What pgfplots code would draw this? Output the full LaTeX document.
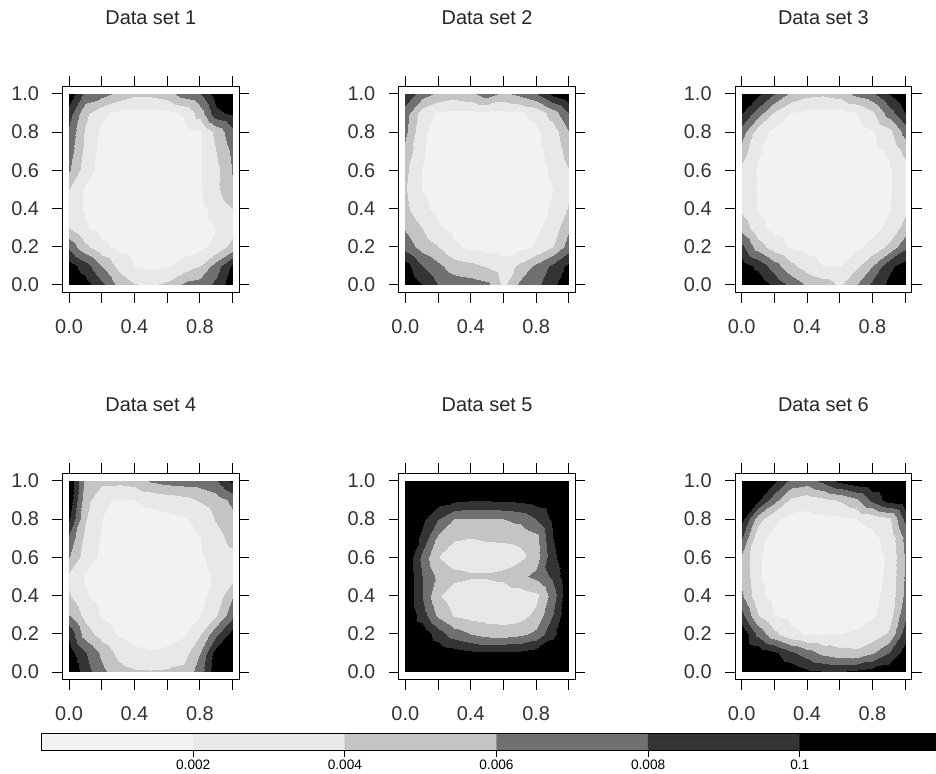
\documentclass[border=0pt]{standalone}
\usepackage{fontspec}
\setmainfont{Liberation Sans}
\usepackage{pgfplots}
\pgfplotsset{compat=1.18}
\pgfplotsset{
  colormap={levels}{rgb255=(242,242,242) rgb255=(232,232,232) rgb255=(196,196,196) rgb255=(112,112,112) rgb255=(52,52,52) rgb255=(0,0,0)},
  panel/.style={
    scale only axis, width=176.6bp, height=206.3bp,
    xmin=-0.04, xmax=1.04, ymin=-0.04, ymax=1.04,
    axis on top,
    colormap name=levels, colormap access=piecewise constant,
    point meta min=0, point meta max=12,
    xtick={0,0.2,0.4,0.6,0.8,1}, ytick={0,0.2,0.4,0.6,0.8,1},
    xticklabels={0.0,,0.4,,0.8,}, yticklabels={0.0,0.2,0.4,0.6,0.8,1.0},
    tick align=outside, tick pos=both, major tick length=10bp,
    tick style={black, line width=0.9bp},
    axis line style={black, line width=1.1bp},
    tick label style={font=\fontsize{20}{24}\selectfont, text=black!80},
    xticklabel style={yshift=-13bp},
    yticklabel style={xshift=-10bp},
    title style={at={(0.5,1)}, anchor=base, yshift=56bp, font=\fontsize{20}{24}\selectfont, text=black!85},
    anchor=south west,
  },
  field/.style={surf, shader=interp, mesh/rows=11, mesh/cols=11, point meta=explicit},
}
\begin{document}
\begin{tikzpicture}[x=1bp,y=1bp]
\path[use as bounding box] (0,0) rectangle (936,774);
\clip (0,0) rectangle (936,774);

% ---------------- Data set 1 ----------------
\begin{axis}[panel, at={(62.5bp,481.4bp)}, title={Data set 1}]
\addplot[field] coordinates {
(0,1)[11.5] (0.1,1)[7.5] (0.2,1)[6.8] (0.3,1)[5.5] (0.4,1)[4.5] (0.5,1)[4.5] (0.6,1)[5] (0.7,1)[7] (0.8,1)[7.8] (0.9,1)[11] (1,1)[12]
(0,0.9)[9] (0.1,0.9)[4.5] (0.2,0.9)[2.5] (0.3,0.9)[1.5] (0.4,0.9)[1.2] (0.5,0.9)[1.2] (0.6,0.9)[1.5] (0.7,0.9)[2.2] (0.8,0.9)[5] (0.9,0.9)[9.5] (1,0.9)[10.5]
(0,0.8)[7.5] (0.1,0.8)[3.8] (0.2,0.8)[1.5] (0.3,0.8)[1] (0.4,0.8)[1] (0.5,0.8)[1] (0.6,0.8)[1] (0.7,0.8)[1.3] (0.8,0.8)[1.8] (0.9,0.8)[4.5] (1,0.8)[7.5]
(0,0.7)[7] (0.1,0.7)[3.5] (0.2,0.7)[1.2] (0.3,0.7)[1] (0.4,0.7)[1] (0.5,0.7)[1] (0.6,0.7)[1] (0.7,0.7)[1.2] (0.8,0.7)[1.8] (0.9,0.7)[4] (1,0.7)[6.5]
(0,0.6)[6.2] (0.1,0.6)[3] (0.2,0.6)[1.2] (0.3,0.6)[1] (0.4,0.6)[1] (0.5,0.6)[1] (0.6,0.6)[1] (0.7,0.6)[1.2] (0.8,0.6)[1.8] (0.9,0.6)[3.5] (1,0.6)[6.2]
(0,0.5)[4] (0.1,0.5)[1.8] (0.2,0.5)[1.2] (0.3,0.5)[1] (0.4,0.5)[1] (0.5,0.5)[1] (0.6,0.5)[1] (0.7,0.5)[1.2] (0.8,0.5)[1.8] (0.9,0.5)[3.5] (1,0.5)[6]
(0,0.4)[3] (0.1,0.4)[1.8] (0.2,0.4)[1.2] (0.3,0.4)[1] (0.4,0.4)[1] (0.5,0.4)[1] (0.6,0.4)[1] (0.7,0.4)[1.2] (0.8,0.4)[1.6] (0.9,0.4)[2.5] (1,0.4)[4]
(0,0.3)[4] (0.1,0.3)[2.2] (0.2,0.3)[1.3] (0.3,0.3)[1] (0.4,0.3)[1] (0.5,0.3)[1] (0.6,0.3)[1] (0.7,0.3)[1.2] (0.8,0.3)[1.5] (0.9,0.3)[2] (1,0.3)[3]
(0,0.2)[7.5] (0.1,0.2)[4.5] (0.2,0.2)[2.5] (0.3,0.2)[1.5] (0.4,0.2)[1.2] (0.5,0.2)[1] (0.6,0.2)[1] (0.7,0.2)[1.2] (0.8,0.2)[1.6] (0.9,0.2)[2.5] (1,0.2)[5]
(0,0.1)[11] (0.1,0.1)[9] (0.2,0.1)[6] (0.3,0.1)[3.5] (0.4,0.1)[2] (0.5,0.1)[1.5] (0.6,0.1)[1.8] (0.7,0.1)[2.8] (0.8,0.1)[4] (0.9,0.1)[7] (1,0.1)[10.5]
(0,0)[12] (0.1,0)[11] (0.2,0)[8.5] (0.3,0)[5.5] (0.4,0)[4.2] (0.5,0)[3.8] (0.6,0)[4.5] (0.7,0)[6.5] (0.8,0)[7] (0.9,0)[8.5] (1,0)[11.5]
};
\end{axis}

% ---------------- Data set 2 ----------------
\begin{axis}[panel, at={(398.8bp,481.4bp)}, title={Data set 2}]
\addplot[field] coordinates {
(0,1)[9.5] (0.1,1)[7] (0.2,1)[5.5] (0.3,1)[5] (0.4,1)[5.5] (0.5,1)[7] (0.6,1)[5.5] (0.7,1)[6.5] (0.8,1)[7.8] (0.9,1)[10.5] (1,1)[12]
(0,0.9)[7] (0.1,0.9)[3] (0.2,0.9)[1.8] (0.3,0.9)[1.5] (0.4,0.9)[1.5] (0.5,0.9)[1.5] (0.6,0.9)[1.5] (0.7,0.9)[1.8] (0.8,0.9)[2.5] (0.9,0.9)[5] (1,0.9)[8]
(0,0.8)[6.5] (0.1,0.8)[2.3] (0.2,0.8)[1.3] (0.3,0.8)[1] (0.4,0.8)[1] (0.5,0.8)[1] (0.6,0.8)[1] (0.7,0.8)[1.2] (0.8,0.8)[1.6] (0.9,0.8)[3] (1,0.8)[6]
(0,0.7)[5.5] (0.1,0.7)[2.2] (0.2,0.7)[1.2] (0.3,0.7)[1] (0.4,0.7)[1] (0.5,0.7)[1] (0.6,0.7)[1] (0.7,0.7)[1.2] (0.8,0.7)[1.6] (0.9,0.7)[2.5] (1,0.7)[5]
(0,0.6)[4.5] (0.1,0.6)[2] (0.2,0.6)[1.2] (0.3,0.6)[1] (0.4,0.6)[1] (0.5,0.6)[1] (0.6,0.6)[1] (0.7,0.6)[1.1] (0.8,0.6)[1.5] (0.9,0.6)[2.2] (1,0.6)[4]
(0,0.5)[4.2] (0.1,0.5)[2] (0.2,0.5)[1.2] (0.3,0.5)[1] (0.4,0.5)[1] (0.5,0.5)[1] (0.6,0.5)[1] (0.7,0.5)[1.1] (0.8,0.5)[1.5] (0.9,0.5)[2] (1,0.5)[3.5]
(0,0.4)[4.5] (0.1,0.4)[2.5] (0.2,0.4)[1.5] (0.3,0.4)[1.1] (0.4,0.4)[1] (0.5,0.4)[1] (0.6,0.4)[1] (0.7,0.4)[1.1] (0.8,0.4)[1.5] (0.9,0.4)[2.2] (1,0.4)[4.3]
(0,0.3)[5.8] (0.1,0.3)[4] (0.2,0.3)[2.2] (0.3,0.3)[1.5] (0.4,0.3)[1.2] (0.5,0.3)[1] (0.6,0.3)[1] (0.7,0.3)[1.2] (0.8,0.3)[1.7] (0.9,0.3)[2.8] (1,0.3)[5.8]
(0,0.2)[7.2] (0.1,0.2)[5.2] (0.2,0.2)[4.1] (0.3,0.2)[2.3] (0.4,0.2)[1.6] (0.5,0.2)[1.3] (0.6,0.2)[1.2] (0.7,0.2)[1.5] (0.8,0.2)[2.2] (0.9,0.2)[4] (1,0.2)[7]
(0,0.1)[11] (0.1,0.1)[8] (0.2,0.1)[6.5] (0.3,0.1)[5] (0.4,0.1)[4.5] (0.5,0.1)[3.8] (0.6,0.1)[2.8] (0.7,0.1)[4.5] (0.8,0.1)[6.5] (0.9,0.1)[8.5] (1,0.1)[10.5]
(0,0)[12] (0.1,0)[10] (0.2,0)[8] (0.3,0)[7.2] (0.4,0)[7] (0.5,0)[6.5] (0.6,0)[3.5] (0.7,0)[6.5] (0.8,0)[7.5] (0.9,0)[9.5] (1,0)[12]
};
\end{axis}

% ---------------- Data set 3 ----------------
\begin{axis}[panel, at={(735.1bp,481.4bp)}, title={Data set 3}]
\addplot[field] coordinates {
(0,1)[12] (0.1,1)[10.5] (0.2,1)[8] (0.3,1)[5.5] (0.4,1)[4.5] (0.5,1)[4.3] (0.6,1)[4.8] (0.7,1)[6.5] (0.8,1)[7.5] (0.9,1)[10] (1,1)[12]
(0,0.9)[10] (0.1,0.9)[7] (0.2,0.9)[3.8] (0.3,0.9)[2] (0.4,0.9)[1.5] (0.5,0.9)[1.3] (0.6,0.9)[1.3] (0.7,0.9)[1.8] (0.8,0.9)[3.5] (0.9,0.9)[7] (1,0.9)[10]
(0,0.8)[7] (0.1,0.8)[2.8] (0.2,0.8)[1.5] (0.3,0.8)[1.2] (0.4,0.8)[1] (0.5,0.8)[1] (0.6,0.8)[1] (0.7,0.8)[1.2] (0.8,0.8)[1.8] (0.9,0.8)[3.2] (1,0.8)[6.8]
(0,0.7)[5] (0.1,0.7)[2.2] (0.2,0.7)[1.3] (0.3,0.7)[1] (0.4,0.7)[1] (0.5,0.7)[1] (0.6,0.7)[1] (0.7,0.7)[1] (0.8,0.7)[1.5] (0.9,0.7)[2.2] (1,0.7)[4.5]
(0,0.6)[3.5] (0.1,0.6)[1.8] (0.2,0.6)[1.2] (0.3,0.6)[1] (0.4,0.6)[1] (0.5,0.6)[1] (0.6,0.6)[1] (0.7,0.6)[1] (0.8,0.6)[1.4] (0.9,0.6)[1.8] (1,0.6)[3.2]
(0,0.5)[3.5] (0.1,0.5)[1.8] (0.2,0.5)[1.2] (0.3,0.5)[1] (0.4,0.5)[1] (0.5,0.5)[1] (0.6,0.5)[1] (0.7,0.5)[1] (0.8,0.5)[1.4] (0.9,0.5)[1.8] (1,0.5)[3.2]
(0,0.4)[3.6] (0.1,0.4)[1.9] (0.2,0.4)[1.2] (0.3,0.4)[1] (0.4,0.4)[1] (0.5,0.4)[1] (0.6,0.4)[1] (0.7,0.4)[1] (0.8,0.4)[1.4] (0.9,0.4)[1.9] (1,0.4)[3.5]
(0,0.3)[5.2] (0.1,0.3)[2.6] (0.2,0.3)[1.4] (0.3,0.3)[1.1] (0.4,0.3)[1] (0.5,0.3)[1] (0.6,0.3)[1] (0.7,0.3)[1.1] (0.8,0.3)[1.5] (0.9,0.3)[2.4] (1,0.3)[4.8]
(0,0.2)[8.5] (0.1,0.2)[5] (0.2,0.2)[3] (0.3,0.2)[1.8] (0.4,0.2)[1.3] (0.5,0.2)[1.1] (0.6,0.2)[1.1] (0.7,0.2)[1.6] (0.8,0.2)[2.5] (0.9,0.2)[4.5] (1,0.2)[7.5]
(0,0.1)[11] (0.1,0.1)[9.5] (0.2,0.1)[7] (0.3,0.1)[4.5] (0.4,0.1)[3] (0.5,0.1)[2] (0.6,0.1)[2] (0.7,0.1)[3.5] (0.8,0.1)[6] (0.9,0.1)[9.5] (1,0.1)[11]
(0,0)[12] (0.1,0)[11.5] (0.2,0)[9.5] (0.3,0)[7.5] (0.4,0)[5.8] (0.5,0)[5] (0.6,0)[3.8] (0.7,0)[6] (0.8,0)[8.5] (0.9,0)[10.5] (1,0)[12]
};
\end{axis}

% ---------------- Data set 4 ----------------
\begin{axis}[panel, at={(62.5bp,94.4bp)}, title={Data set 4}]
\addplot[field] coordinates {
(0,1)[11.8] (0.1,1)[5.5] (0.2,1)[4.5] (0.3,1)[4.5] (0.4,1)[4.8] (0.5,1)[6.2] (0.6,1)[6.8] (0.7,1)[7] (0.8,1)[7] (0.9,1)[7.8] (1,1)[10.5]
(0,0.9)[11.5] (0.1,0.9)[4.8] (0.2,0.9)[2.3] (0.3,0.9)[1.8] (0.4,0.9)[2] (0.5,0.9)[2.4] (0.6,0.9)[2.8] (0.7,0.9)[3.3] (0.8,0.9)[4.2] (0.9,0.9)[5] (1,0.9)[6.5]
(0,0.8)[10.2] (0.1,0.8)[4.2] (0.2,0.8)[2] (0.3,0.8)[1.4] (0.4,0.8)[1.3] (0.5,0.8)[1.4] (0.6,0.8)[1.5] (0.7,0.8)[1.8] (0.8,0.8)[2.5] (0.9,0.8)[4.2] (1,0.8)[5.5]
(0,0.7)[7.5] (0.1,0.7)[3.5] (0.2,0.7)[1.8] (0.3,0.7)[1.3] (0.4,0.7)[1] (0.5,0.7)[1] (0.6,0.7)[1] (0.7,0.7)[1.3] (0.8,0.7)[2] (0.9,0.7)[3.2] (1,0.7)[4.8]
(0,0.6)[6.1] (0.1,0.6)[3] (0.2,0.6)[1.6] (0.3,0.6)[1.1] (0.4,0.6)[1] (0.5,0.6)[1] (0.6,0.6)[1] (0.7,0.6)[1.2] (0.8,0.6)[1.8] (0.9,0.6)[2.5] (1,0.6)[3.5]
(0,0.5)[3.5] (0.1,0.5)[1.8] (0.2,0.5)[1.2] (0.3,0.5)[1] (0.4,0.5)[1] (0.5,0.5)[1] (0.6,0.5)[1] (0.7,0.5)[1.1] (0.8,0.5)[1.6] (0.9,0.5)[2.2] (1,0.5)[3.2]
(0,0.4)[4.2] (0.1,0.4)[2.2] (0.2,0.4)[1.3] (0.3,0.4)[1] (0.4,0.4)[1] (0.5,0.4)[1] (0.6,0.4)[1] (0.7,0.4)[1.1] (0.8,0.4)[1.6] (0.9,0.4)[2.6] (1,0.4)[6]
(0,0.3)[6] (0.1,0.3)[3.3] (0.2,0.3)[1.8] (0.3,0.3)[1.2] (0.4,0.3)[1] (0.5,0.3)[1] (0.6,0.3)[1] (0.7,0.3)[1.2] (0.8,0.3)[2] (0.9,0.3)[3.8] (1,0.3)[7.5]
(0,0.2)[9.5] (0.1,0.2)[5] (0.2,0.2)[3] (0.3,0.2)[1.8] (0.4,0.2)[1.2] (0.5,0.2)[1] (0.6,0.2)[1.1] (0.7,0.2)[1.8] (0.8,0.2)[3.8] (0.9,0.2)[7.5] (1,0.2)[11]
(0,0.1)[11] (0.1,0.1)[8.2] (0.2,0.1)[5.5] (0.3,0.1)[3.5] (0.4,0.1)[2.5] (0.5,0.1)[2.2] (0.6,0.1)[2.5] (0.7,0.1)[3.2] (0.8,0.1)[6] (0.9,0.1)[11] (1,0.1)[11.8]
(0,0)[12] (0.1,0)[9] (0.2,0)[6.5] (0.3,0)[4.8] (0.4,0)[4.3] (0.5,0)[4.2] (0.6,0)[4.3] (0.7,0)[4.6] (0.8,0)[7] (0.9,0)[11.5] (1,0)[12]
};
\end{axis}

% ---------------- Data set 5 ----------------
\begin{axis}[panel, at={(398.8bp,94.4bp)}, title={Data set 5}]
\addplot[field] coordinates {
(0,1)[12] (0.1,1)[12] (0.2,1)[12] (0.3,1)[12] (0.4,1)[12] (0.5,1)[12] (0.6,1)[12] (0.7,1)[12] (0.8,1)[12] (0.9,1)[12] (1,1)[12]
(0,0.9)[12] (0.1,0.9)[11.5] (0.2,0.9)[11] (0.3,0.9)[10.5] (0.4,0.9)[10.2] (0.5,0.9)[10.2] (0.6,0.9)[10.3] (0.7,0.9)[10.5] (0.8,0.9)[11] (0.9,0.9)[11.5] (1,0.9)[12]
(0,0.8)[12] (0.1,0.8)[10.5] (0.2,0.8)[8] (0.3,0.8)[6] (0.4,0.8)[5.8] (0.5,0.8)[5.8] (0.6,0.8)[6] (0.7,0.8)[6.5] (0.8,0.8)[8] (0.9,0.8)[10.5] (1,0.8)[12]
(0,0.7)[12] (0.1,0.7)[9.5] (0.2,0.7)[5.5] (0.3,0.7)[4.2] (0.4,0.7)[4] (0.5,0.7)[4.2] (0.6,0.7)[4.3] (0.7,0.7)[4.5] (0.8,0.7)[5.3] (0.9,0.7)[10] (1,0.7)[12]
(0,0.6)[12] (0.1,0.6)[7.5] (0.2,0.6)[4] (0.3,0.6)[3] (0.4,0.6)[3] (0.5,0.6)[3] (0.6,0.6)[3] (0.7,0.6)[3.5] (0.8,0.6)[5] (0.9,0.6)[9.5] (1,0.6)[12]
(0,0.5)[12] (0.1,0.5)[8] (0.2,0.5)[5.5] (0.3,0.5)[4.5] (0.4,0.5)[4.2] (0.5,0.5)[4.2] (0.6,0.5)[4.5] (0.7,0.5)[5.5] (0.8,0.5)[6.5] (0.9,0.5)[8.5] (1,0.5)[12]
(0,0.4)[12] (0.1,0.4)[8] (0.2,0.4)[4.2] (0.3,0.4)[3] (0.4,0.4)[2.8] (0.5,0.4)[2.8] (0.6,0.4)[2.8] (0.7,0.4)[3] (0.8,0.4)[3.5] (0.9,0.4)[7] (1,0.4)[12]
(0,0.3)[12] (0.1,0.3)[9] (0.2,0.3)[5.5] (0.3,0.3)[3.8] (0.4,0.3)[3.2] (0.5,0.3)[3] (0.6,0.3)[3] (0.7,0.3)[3.2] (0.8,0.3)[4.5] (0.9,0.3)[8] (1,0.3)[12]
(0,0.2)[12] (0.1,0.2)[11.5] (0.2,0.2)[9] (0.3,0.2)[7] (0.4,0.2)[6] (0.5,0.2)[5.2] (0.6,0.2)[5] (0.7,0.2)[5.5] (0.8,0.2)[6.5] (0.9,0.2)[9.5] (1,0.2)[12]
(0,0.1)[12] (0.1,0.1)[12] (0.2,0.1)[11.5] (0.3,0.1)[11] (0.4,0.1)[10.5] (0.5,0.1)[10.5] (0.6,0.1)[10.5] (0.7,0.1)[10.5] (0.8,0.1)[11] (0.9,0.1)[11.5] (1,0.1)[12]
(0,0)[12] (0.1,0)[12] (0.2,0)[12] (0.3,0)[12] (0.4,0)[12] (0.5,0)[12] (0.6,0)[12] (0.7,0)[12] (0.8,0)[12] (0.9,0)[12] (1,0)[12]
};
\end{axis}

% ---------------- Data set 6 ----------------
\begin{axis}[panel, at={(735.1bp,94.4bp)}, title={Data set 6}]
\addplot[field] coordinates {
(0,1)[12] (0.1,1)[12] (0.2,1)[10.5] (0.3,1)[7.5] (0.4,1)[7] (0.5,1)[8.5] (0.6,1)[10.5] (0.7,1)[11.5] (0.8,1)[12] (0.9,1)[12] (1,1)[12]
(0,0.9)[11.5] (0.1,0.9)[10.3] (0.2,0.9)[6.8] (0.3,0.9)[3.5] (0.4,0.9)[2.8] (0.5,0.9)[3.5] (0.6,0.9)[4.2] (0.7,0.9)[5.5] (0.8,0.9)[8.5] (0.9,0.9)[11] (1,0.9)[11.5]
(0,0.8)[10.5] (0.1,0.8)[4.8] (0.2,0.8)[2.3] (0.3,0.8)[1.5] (0.4,0.8)[1.3] (0.5,0.8)[1.4] (0.6,0.8)[1.6] (0.7,0.8)[2] (0.8,0.8)[2.5] (0.9,0.8)[3.5] (1,0.8)[8.5]
(0,0.7)[8] (0.1,0.7)[2.5] (0.2,0.7)[1.5] (0.3,0.7)[1.1] (0.4,0.7)[1] (0.5,0.7)[1] (0.6,0.7)[1] (0.7,0.7)[1.2] (0.8,0.7)[1.6] (0.9,0.7)[2.5] (1,0.7)[6.5]
(0,0.6)[5.5] (0.1,0.6)[2.2] (0.2,0.6)[1.3] (0.3,0.6)[1] (0.4,0.6)[1] (0.5,0.6)[1] (0.6,0.6)[1] (0.7,0.6)[1.1] (0.8,0.6)[1.5] (0.9,0.6)[2.2] (1,0.6)[6.2]
(0,0.5)[5.5] (0.1,0.5)[2.2] (0.2,0.5)[1.3] (0.3,0.5)[1] (0.4,0.5)[1] (0.5,0.5)[1] (0.6,0.5)[1] (0.7,0.5)[1.1] (0.8,0.5)[1.5] (0.9,0.5)[2.3] (1,0.5)[6.2]
(0,0.4)[6.2] (0.1,0.4)[2.5] (0.2,0.4)[1.4] (0.3,0.4)[1] (0.4,0.4)[1] (0.5,0.4)[1] (0.6,0.4)[1] (0.7,0.4)[1.1] (0.8,0.4)[1.6] (0.9,0.4)[2.5] (1,0.4)[6.5]
(0,0.3)[8.5] (0.1,0.3)[4] (0.2,0.3)[2] (0.3,0.3)[1.3] (0.4,0.3)[1] (0.5,0.3)[1] (0.6,0.3)[1] (0.7,0.3)[1.2] (0.8,0.3)[1.8] (0.9,0.3)[3] (1,0.3)[7.5]
(0,0.2)[11.5] (0.1,0.2)[7.5] (0.2,0.2)[4.5] (0.3,0.2)[2.5] (0.4,0.2)[1.8] (0.5,0.2)[1.8] (0.6,0.2)[2] (0.7,0.2)[2.3] (0.8,0.2)[2.8] (0.9,0.2)[4.3] (1,0.2)[9]
(0,0.1)[12] (0.1,0.1)[11.5] (0.2,0.1)[10.5] (0.3,0.1)[8.5] (0.4,0.1)[7] (0.5,0.1)[5.5] (0.6,0.1)[4.8] (0.7,0.1)[4.5] (0.8,0.1)[5.8] (0.9,0.1)[8] (1,0.1)[11]
(0,0)[12] (0.1,0)[12] (0.2,0)[12] (0.3,0)[11.5] (0.4,0)[10.5] (0.5,0)[10.2] (0.6,0)[10.2] (0.7,0)[10.5] (0.8,0)[11] (0.9,0)[11.5] (1,0)[12]
};
\end{axis}

% ---------------- colour key ----------------
\begin{axis}[scale only axis, width=909.8bp, height=16.7bp, at={(41.6bp,23.3bp)}, anchor=south west,
  xmin=0, xmax=12, ymin=0, ymax=1,
  colormap name=levels, colormap access=piecewise constant,
  point meta min=0, point meta max=12,
  xtick={2,4,6,8,10}, xticklabels={0.002,0.004,0.006,0.008,0.1}, ytick=\empty,
  tick align=outside, tick pos=left, major tick length=6bp,
  tick style={black, line width=0.9bp}, axis line style={black, line width=1bp}, axis on top,
  xticklabel style={font=\fontsize{13.7}{16}\selectfont}]
\addplot[matrix plot*, mesh/rows=2, mesh/cols=6, point meta=explicit] coordinates {
(1,0.25)[1] (3,0.25)[3] (5,0.25)[5] (7,0.25)[7] (9,0.25)[9] (11,0.25)[11]
(1,0.75)[1] (3,0.75)[3] (5,0.75)[5] (7,0.75)[7] (9,0.75)[9] (11,0.75)[11]
};
\end{axis}
\end{tikzpicture}
\end{document}
